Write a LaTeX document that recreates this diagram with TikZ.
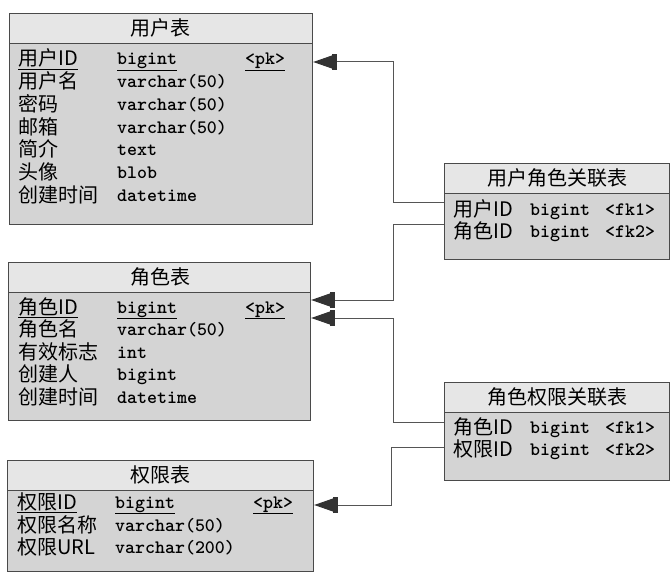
\documentclass[tikz,border=0pt]{standalone}
\usepackage{fontspec}
\newfontfamily\cjk{Noto Sans CJK SC}
\usetikzlibrary{arrows.meta}
\definecolor{bodygray}{HTML}{D4D4D4}
\definecolor{headgray}{HTML}{E6E6E6}
\definecolor{edgegray}{HTML}{4A4A4A}
\definecolor{linegray}{HTML}{555555}
\definecolor{tipgray}{HTML}{333333}
\begin{document}
\begin{tikzpicture}[x=1pt,y=-1pt,
  tblbox/.style={draw=edgegray,line width=1.2pt,fill=bodygray,anchor=north west,inner sep=0pt,minimum width=#1},
  headbox/.style={draw=edgegray,line width=1.2pt,fill=headgray,anchor=north west,inner sep=0pt,minimum height=30pt,minimum width=#1},
  title/.style={font=\cjk\fontsize{20}{20}\selectfont,inner sep=0pt},
  nm/.style={font=\cjk\fontsize{20}{20}\selectfont,inner sep=0pt,anchor=base west},
  ty/.style={font=\ttfamily\bfseries\fontsize{19}{19}\selectfont,inner sep=0pt,anchor=base west},
  fk/.style={draw=linegray,line width=1pt,-{Bar[width=16pt,line width=5pt,color=tipgray] Triangle[length=19pt,width=13pt,color=tipgray]}}]
\useasboundingbox (0,0) rectangle (671,577);
% ---------- user table
\node[tblbox=303pt,minimum height=211pt] (user) at (9,13) {};
\node[headbox=303pt] (userh) at (9,13) {};
\node[title] (usert) at (160,28) {用户表};
\foreach \n/\t/\k [count=\i from 0] in {用户名/varchar(50)/a,密码/varchar(50)/b,邮箱/varchar(50)/c,简介/text/d,头像/blob/e,创建时间/datetime/f}{
  \node[nm] (un\k) at (18,{59+22.7*(\i+1)+7}) {\n};
  \node[ty] (ut\k) at (117,{59+22.7*(\i+1)+6}) {\t};
}
\node[nm] (un0) at (18,66) {\underline{用户ID}};
\node[ty] (ut0) at (117,65) {\underline{bigint}};
\node[ty] (uk0) at (245,65) {\underline{<pk>}};
% ---------- role table
\node[tblbox=302pt,minimum height=158pt] (role) at (8,262) {};
\node[headbox=302pt] (roleh) at (8,262) {};
\node[title] (rolet) at (160,277) {角色表};
\foreach \n/\t/\k [count=\i from 0] in {角色名/varchar(50)/a,有效标志/int/b,创建人/bigint/c,创建时间/datetime/d}{
  \node[nm] (rn\k) at (18,{307+22.5*(\i+1)+7}) {\n};
  \node[ty] (rt\k) at (117,{307+22.5*(\i+1)+6}) {\t};
}
\node[nm] (rn0) at (18,314) {\underline{角色ID}};
\node[ty] (rt0) at (117,313) {\underline{bigint}};
\node[ty] (rk0) at (245,313) {\underline{<pk>}};
% ---------- permission table
\node[tblbox=306pt,minimum height=111pt] (perm) at (7,460) {};
\node[headbox=306pt] (permh) at (7,460) {};
\node[title] (permt) at (160,475) {权限表};
\node[nm] (pn0) at (17,509) {\underline{权限ID}};
\node[ty] (pt0) at (115,508) {\underline{bigint}};
\node[ty] (pk0) at (253,508) {\underline{<pk>}};
\node[nm] (pna) at (17,532) {权限名称};
\node[ty] (pta) at (115,531) {varchar(50)};
\node[nm] (pnb) at (17,554) {权限URL};
\node[ty] (ptb) at (115,553) {varchar(200)};
% ---------- user-role table
\node[tblbox=225pt,minimum height=96pt] (ur) at (444,163) {};
\node[headbox=225pt] (urh) at (444,163) {};
\node[title] (urt) at (557,178) {用户角色关联表};
\node[nm] (urn1) at (453,217) {用户ID};
\node[ty] (urt1) at (530,216) {bigint};
\node[ty] (urk1) at (605,216) {<fk1>};
\node[nm] (urn2) at (453,238) {角色ID};
\node[ty] (urt2) at (530,237) {bigint};
\node[ty] (urk2) at (605,237) {<fk2>};
% ---------- role-permission table
\node[tblbox=225pt,minimum height=98pt] (rp) at (444,382) {};
\node[headbox=225pt] (rph) at (444,382) {};
\node[title] (rpt) at (557,397) {角色权限关联表};
\node[nm] (rpn1) at (453,434) {角色ID};
\node[ty] (rpt1) at (530,433) {bigint};
\node[ty] (rpk1) at (605,433) {<fk1>};
\node[nm] (rpn2) at (453,456) {权限ID};
\node[ty] (rpt2) at (530,455) {bigint};
\node[ty] (rpk2) at (605,455) {<fk2>};
% ---------- connectors
\draw[fk] (ur.west |- 0,203) -- (393,203) |- (user.east |- 0,62);
\draw[fk] (ur.west |- 0,225) -- (393,225) |- (role.east |- 0,300);
\draw[fk] (rp.west |- 0,422) -- (393,422) |- (role.east |- 0,318);
\draw[fk] (rp.west |- 0,447) -- (391,447) |- (perm.east |- 0,505);
\end{tikzpicture}
\end{document}
